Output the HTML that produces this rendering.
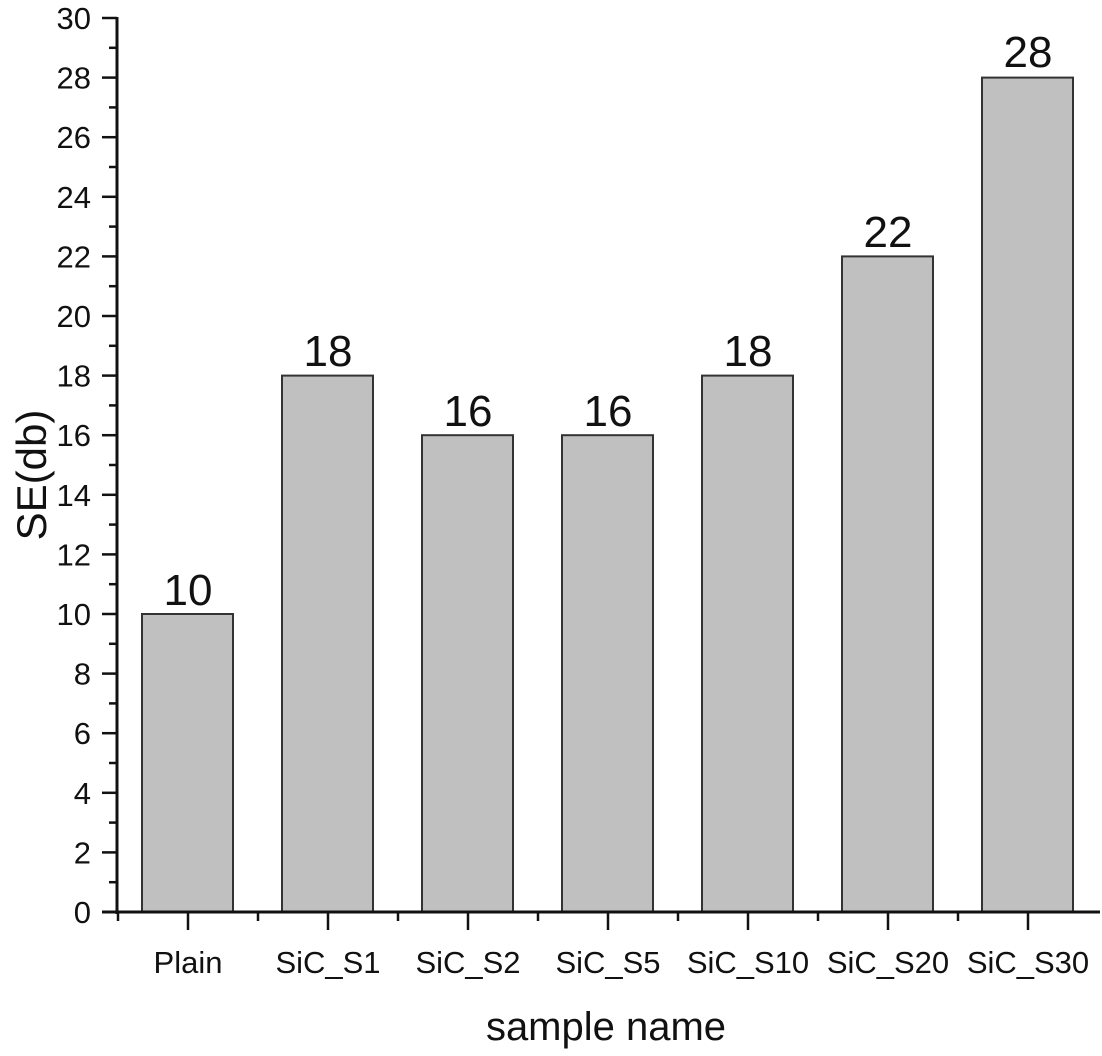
<!DOCTYPE html>
<html><head><meta charset="utf-8"><style>body{margin:0;background:#fff}svg{display:block}</style></head><body>
<svg width="1102" height="1056" viewBox="0 0 1102 1056" xmlns="http://www.w3.org/2000/svg" font-family="Liberation Sans, Arial, sans-serif" fill="#111">
<g fill="#c0c0c0" stroke="#333" stroke-width="2">
<rect x="142" y="614" width="91" height="298"/>
<rect x="282" y="375.6" width="91" height="536.4"/>
<rect x="422" y="435.2" width="91" height="476.8"/>
<rect x="562" y="435.2" width="91" height="476.8"/>
<rect x="702" y="375.6" width="91" height="536.4"/>
<rect x="842" y="256.4" width="91" height="655.6"/>
<rect x="982" y="77.6" width="91" height="834.4"/>
</g>
<g font-size="44" text-anchor="middle">
<text x="188" y="605">10</text>
<text x="328" y="366">18</text>
<text x="468" y="426">16</text>
<text x="608" y="426">16</text>
<text x="748" y="366">18</text>
<text x="888" y="247">22</text>
<text x="1028" y="67">28</text>
</g>
<g stroke="#111" stroke-width="3">
<line x1="117" y1="17" x2="117" y2="914"/>
<line x1="102" y1="912" x2="1100" y2="912"/>
</g>
<g stroke="#111" stroke-width="2.5" id="yt"></g>
<g font-size="31" text-anchor="end" id="yl"></g>
<g font-size="31" text-anchor="middle">
<text x="188" y="973">Plain</text>
<text x="328" y="973">SiC_S1</text>
<text x="468" y="973">SiC_S2</text>
<text x="608" y="973">SiC_S5</text>
<text x="748" y="973">SiC_S10</text>
<text x="888" y="973">SiC_S20</text>
<text x="1028" y="973">SiC_S30</text>
</g>
<g stroke="#111" stroke-width="2.5">
<line x1="188" y1="912" x2="188" y2="930"/><line x1="328" y1="912" x2="328" y2="930"/><line x1="468" y1="912" x2="468" y2="930"/><line x1="608" y1="912" x2="608" y2="930"/><line x1="748" y1="912" x2="748" y2="930"/><line x1="888" y1="912" x2="888" y2="930"/><line x1="1028" y1="912" x2="1028" y2="930"/>
<line x1="118" y1="912" x2="118" y2="921"/><line x1="258" y1="912" x2="258" y2="921"/><line x1="398" y1="912" x2="398" y2="921"/><line x1="538" y1="912" x2="538" y2="921"/><line x1="678" y1="912" x2="678" y2="921"/><line x1="818" y1="912" x2="818" y2="921"/><line x1="958" y1="912" x2="958" y2="921"/>
</g>
<text x="606" y="1040" font-size="40" text-anchor="middle">sample name</text>
<text transform="translate(46,475) rotate(-90)" font-size="42" text-anchor="middle">SE(db)</text>
<script>
var t=document.getElementById('yt'),l=document.getElementById('yl'),ns='http://www.w3.org/2000/svg';
for(var v=0;v<=30;v++){var y=912-29.8*v;var ln=document.createElementNS(ns,'line');ln.setAttribute('x1',v%2?109:102);ln.setAttribute('x2',117);ln.setAttribute('y1',y);ln.setAttribute('y2',y);t.appendChild(ln);
if(v%2==0){var tx=document.createElementNS(ns,'text');tx.setAttribute('x',91);tx.setAttribute('y',y+11);tx.textContent=v;l.appendChild(tx);}}
</script>
</svg>
</body></html>
